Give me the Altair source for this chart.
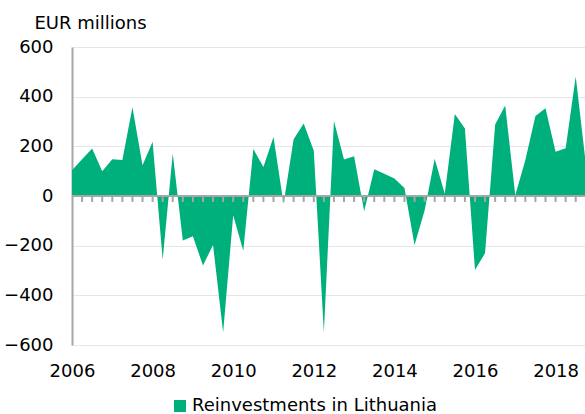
import altair as alt
import pandas as pd

START_YEAR = 2006
SERIES = "Reinvestments in Lithuania"
GREEN = "#00b07c"

# Quarterly values, EUR millions, 2006 Q1 onwards
values = [104, 148, 191, 100, 148, 145, 357, 124, 218, -256,
          171, -179, -162, -280, -197, -550, -78, -220, 189, 117,
          238, -31, 229, 292, 182, -550, 302, 147, 160, -61,
          108, 90, 70, 32, -197, -58, 150, 9, 330, 272,
          -298, -230, 288, 364, 3, 145, 322, 353, 178, 192,
          481, 130]
quarters = [f"{START_YEAR + i // 4}Q{i % 4 + 1}" for i in range(len(values))]
year_labels = ["2006", "2008", "2010", "2012", "2014", "2016", "2018"]
y_ticks = [-600, -400, -200, 0, 200, 400, 600]

df = pd.DataFrame({
    "t": list(range(len(values))),
    "quarter": quarters,
    "value": values,
    "series": [SERIES] * len(values),
})
tick_df = pd.DataFrame({"t": list(range(1, len(values) - 1))})
zero_df = pd.DataFrame({"z": [0]})

FONT = "DejaVu Sans"
GREY = "#a6a6a6"
xscale = alt.Scale(domain=[0, 50.92], nice=False, zero=False)
yscale = alt.Scale(domain=[-600, 600], nice=False)

label_expr = "[" + ",".join(f"'{y}'" for y in year_labels) + "][round(datum.value / 8)]"

area = alt.Chart(df).mark_area(clip=True, interpolate="linear", opacity=1).encode(
    x=alt.X("t:Q", scale=xscale,
            axis=alt.Axis(values=[i * 8 for i in range(len(year_labels))], labelExpr=label_expr,
                          domain=False, ticks=False, grid=False, labelFlush=False,
                          labelPadding=17, labelFontSize=18, labelFont=FONT,
                          labelColor="#000000", title=None)),
    y=alt.Y("value:Q", scale=yscale, stack=None,
            axis=alt.Axis(values=y_ticks, grid=True, gridColor="#e6e6e6", gridWidth=1,
                          domain=True, domainColor=GREY, domainWidth=2, ticks=False,
                          labelFontSize=18, labelFont=FONT, labelColor="#000000",
                          labelPadding=19, title="EUR millions", titleAngle=0,
                          titleX=-38, titleY=-19, titleAlign="left",
                          titleBaseline="alphabetic", titleFontSize=18, titleFont=FONT,
                          titleFontWeight="normal", titleColor="#000000")),
    color=alt.Color("series:N", scale=alt.Scale(domain=[SERIES], range=[GREEN]),
                    legend=alt.Legend(orient="none", legendX=99, legendY=350, title=None,
                                      symbolType="square", symbolSize=144, symbolStrokeWidth=0,
                                      labelFontSize=18, labelFont=FONT, labelColor="#000000",
                                      labelOffset=3, labelLimit=0, padding=0)),
)

zero = alt.Chart(zero_df).mark_rule(color=GREY, strokeWidth=2).encode(
    y=alt.Y("z:Q", scale=yscale)
)

ticks = alt.Chart(tick_df).mark_rule(color=GREY, strokeWidth=2, y2Offset=6).encode(
    x=alt.X("t:Q", scale=xscale),
    y=alt.datum(0),
    y2=alt.datum(0),
)

chart = alt.layer(area, zero, ticks).properties(
    width=513, height=298,
    autosize=alt.AutoSizeParams(type="none"),
    padding={"left": 72, "top": 47, "right": 0, "bottom": 69},
).configure_view(stroke=None)

chart.save("out.html", embed_options={"renderer": "svg", "actions": False})
